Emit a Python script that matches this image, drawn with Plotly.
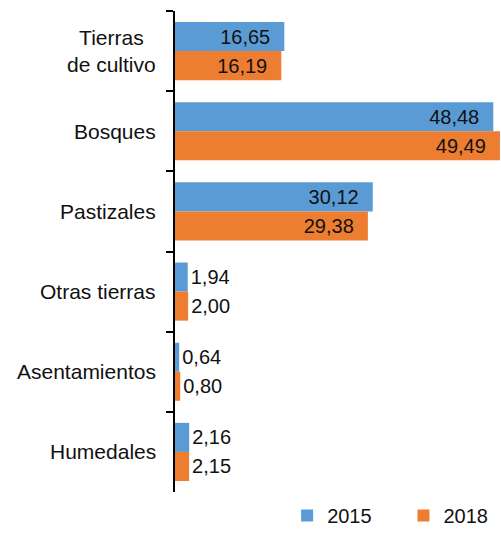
import plotly.graph_objects as go

categories = ["Tierras<br>de cultivo", "Bosques", "Pastizales", "Otras tierras", "Asentamientos", "Humedales"]
values_2015 = [16.65, 48.48, 30.12, 1.94, 0.64, 2.16]
values_2018 = [16.19, 49.49, 29.38, 2.00, 0.80, 2.15]
series_names = ["2015", "2018"]
colors = ["#5B9BD5", "#ED7D31"]

FONT = "Liberation Sans, Arial, sans-serif"
NB = "\u00a0"


def fmt(v):
    return f"{v:.2f}".replace(".", ",")


def labels(vals):
    texts, pos = [], []
    for v in vals:
        if v > 10:
            texts.append(fmt(v) + NB * 2)
            pos.append("inside")
        else:
            texts.append(fmt(v))
            pos.append("outside")
    return texts, pos


fig = go.Figure()
for name, vals, col, lg in zip(series_names, [values_2015, values_2018], colors, ["legend", "legend2"]):
    t, p = labels(vals)
    fig.add_trace(go.Bar(
        name=name, y=categories, x=vals, orientation="h",
        marker=dict(color=col, line=dict(width=0)),
        text=t, textposition=p, insidetextanchor="end",
        textfont=dict(family=FONT, size=20, color="#111111"),
        constraintext="none", cliponaxis=False, legend=lg,
    ))

for c in categories:
    fig.add_annotation(
        text=c, xref="paper", x=0, xshift=-17, xanchor="right",
        yref="y", y=c, yanchor="middle", showarrow=False, align="center",
        font=dict(family=FONT, size=21, color="#111111"),
    )

legend_common = dict(orientation="h", xref="paper", xanchor="left",
                     yref="container", y=0.0, yanchor="bottom",
                     font=dict(family=FONT, size=20), itemwidth=30,
                     bgcolor="rgba(0,0,0,0)")

fig.update_layout(
    width=501, height=535,
    margin=dict(l=175, r=1, t=11, b=43),
    paper_bgcolor="white", plot_bgcolor="white",
    barmode="group", bargap=0.275, bargroupgap=0,
    font=dict(family=FONT, size=20, color="#111111"),
    showlegend=True,
    legend=dict(x=0.345, **legend_common),
    legend2=dict(x=0.703, **legend_common),
    xaxis=dict(range=[0, 49.5], visible=False, showgrid=False, zeroline=False),
    yaxis=dict(type="category", range=[5.5, -0.5], showticklabels=False,
               tickson="boundaries", ticks="outside", ticklen=7, tickwidth=1.5,
               tickcolor="black", showline=True, linecolor="black", linewidth=1.5,
               showgrid=False, zeroline=False),
)

fig.write_html(
    "out.html",
    config={"displayModeBar": False},
    post_script="document.body.style.margin='0';document.body.style.overflow='hidden';",
)
